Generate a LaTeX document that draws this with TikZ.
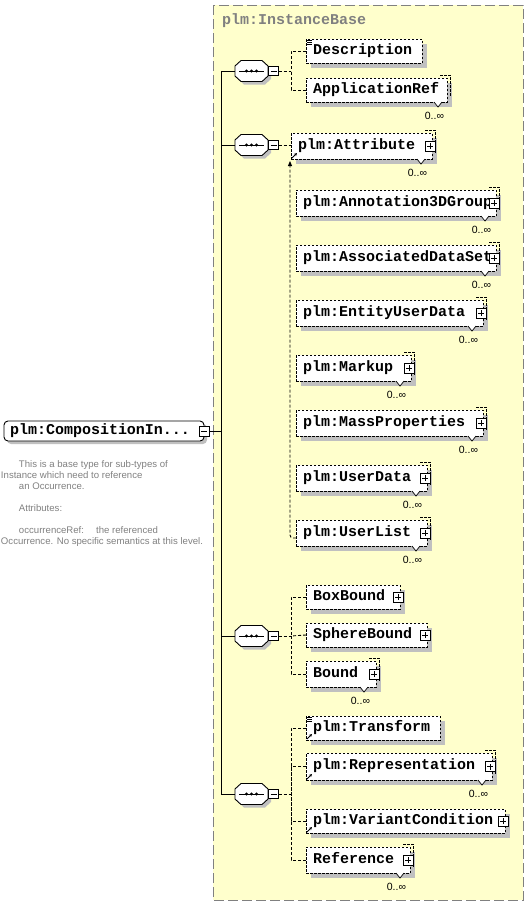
\documentclass[tikz,border=0pt]{standalone}
\usepackage{fontspec}
\newfontfamily\monof{Liberation Mono}
\newfontfamily\sansf{Liberation Sans}
\usetikzlibrary{arrows.meta,calc}
\definecolor{ybg}{HTML}{FFFFCC}
\definecolor{shd}{HTML}{C0C0C0}
\definecolor{txtgray}{HTML}{808080}
\tikzset{
 every node/.style={inner sep=0pt, outer sep=0pt},
 conn/.style={line width=0.9pt, dash pattern=on 3pt off 2pt},
 optbox/.style={draw, fill=white, line width=0.9pt, dash pattern=on 2.5pt off 1.5pt, anchor=north west,
   font=\monof\bfseries\fontsize{15}{15}\selectfont, text height=8.5pt, text depth=2.5pt},
 rootbox/.style={draw, solid, fill=white, line width=0.9pt, rounded corners=4pt, anchor=north west,
   minimum height=20pt, font=\monof\bfseries\fontsize{15}{15}\selectfont, text height=8.5pt, text depth=2.5pt},
 pm/.style={draw, solid, fill=white, line width=0.8pt, minimum width=10pt, minimum height=10pt},
 minus/.style={path picture={\draw[line width=0.8pt] ([xshift=-3pt]path picture bounding box.center) -- ([xshift=3pt]path picture bounding box.center);}},
 plus/.style={path picture={\draw[line width=0.8pt] ([xshift=-3pt]path picture bounding box.center) -- ([xshift=3pt]path picture bounding box.center);
   \draw[line width=0.8pt] ([yshift=-3pt]path picture bounding box.center) -- ([yshift=3pt]path picture bounding box.center);}},
 card/.style={font=\sansf\fontsize{10.5}{12}\selectfont, anchor=base east},
 desc/.style={font=\sansf\fontsize{9.6}{11}\selectfont, text=txtgray, anchor=base west},
 seqn/.style={minimum width=33pt, minimum height=21pt},
}
% element box: name, x, y, w, h, text
\newcommand\El[6]{%
 \fill[shd] (#2+5,#3+5) rectangle ++(#4,#5);
 \node[optbox, minimum width=#4pt, minimum height=#5pt] (#1) at (#2,#3) {\makebox[#4pt][l]{\hspace{7pt}#6}};
}
% multiple occurrences: name, notch offset from right
\newcommand\Multi[2]{%
 \draw[line width=0.9pt, dash pattern=on 2.5pt off 1.5pt] ([shift={(-7,-3)}]#1.north east) -- ([shift={(3,-3)}]#1.north east) -- ([shift={(3,-6)}]#1.south east);
 \filldraw[fill=white, line width=0.7pt] ([shift={(-#2-4,0)}]#1.south east) -- ++(4,5) -- ++(4,-5);
 \node[card] (#1c) at ([shift={(-#2+6,17)}]#1.south east) {0..∞};
}
\newcommand\Plus[1]{\node[pm, plus] (#1p) at ([xshift=-2pt]#1.east) {};}
\newcommand\RefArrow[1]{\draw[line width=0.8pt, -{Stealth[length=3pt,width=3pt]}] ([shift={(1,-1)}]#1.south west) -- ++(5,-5);}
\newcommand\Simple[1]{%
 \foreach \yy in {1.5,3.5,5.5} \draw[line width=0.7pt] ([shift={(1,\yy)}]#1.north west) -- ++(5,0);
}
% sequence compositor: name, centre y
\newcommand\Seq[2]{%
 \fill[shd] (238,#2-2) -- (244,#2-7.5) -- (265,#2-7.5) -- (271,#2-2) -- (271,#2+8) -- (265,#2+13.5) -- (244,#2+13.5) -- (238,#2+8) -- cycle;
 \filldraw[fill=white, line width=0.9pt] (235,#2-5) -- (241,#2-10.5) -- (262,#2-10.5) -- (268,#2-5) -- (268,#2+5) -- (262,#2+10.5) -- (241,#2+10.5) -- (235,#2+5) -- cycle;
 \node[seqn] (#1) at (251.5,#2) {};
 \draw[line width=0.9pt] (239,#2) -- (264,#2);
 \foreach \xx in {246.5,251.5,256.5} \fill (\xx,#2) circle (1.6pt);
 \node[pm, minus, minimum height=9.5pt] (#1m) at (273.5,#2) {};
}
\begin{document}
\begin{tikzpicture}[x=1pt,y=-1pt]
\useasboundingbox (0,0) rectangle (530,906);
% background of the complex type
\fill[ybg] (213,5) rectangle (523,900);
\draw[txtgray, line width=1pt, dash pattern=on 10pt off 4pt] (213,5) rectangle (523,900);
\node[anchor=west, text=txtgray, font=\monof\bfseries\fontsize{15}{15}\selectfont] (title) at (222,21) {plm:InstanceBase};

% root element
\fill[shd, rounded corners=4pt] (7,424) rectangle (207,444);
\node[rootbox] (root) at (4,421) {\makebox[200pt][l]{\hspace{6pt}plm:CompositionIn...}};
\node[pm, minus] (mr) at (204,431) {};

% documentation
\node[desc] (d1) at (19,467) {This is a base type for sub-types of};
\node[desc] (d2) at (1,478) {Instance which need to reference};
\node[desc] (d3) at (19,489) {an Occurrence.};
\node[desc] (d4) at (19,511) {Attributes:};
\node[desc] (d5) at (19,533) {occurrenceRef:\hspace{12pt}the referenced};
\node[desc] (d6) at (1,544) {Occurrence. No specific semantics at this level.};

% sequences
\Seq{s1}{71}
\Seq{s2}{145}
\Seq{s3}{636}
\Seq{s4}{794}

% main trunk
\coordinate (vtop) at (221,71);
\coordinate (vbot) at (221,794);
\draw[line width=0.9pt] (s1.west) -- (vtop) -- (vbot) -- (s4.west);
\draw[line width=0.9pt] (s2.west) -- (s2.west -| vtop);
\draw[line width=0.9pt] (s3.west) -- (s3.west -| vtop);
\draw[line width=0.9pt] (mr.east) -- (mr.east -| vtop);

% sequence 1
\El{desc}{306}{39}{116}{24}{Description}
\Simple{desc}
\El{appref}{306}{78}{141}{24}{ApplicationRef}
\Multi{appref}{9}
\coordinate (t1) at (291,71);
\draw[conn] (s1m.east) -- (t1);
\draw[conn] (desc.west) -| (t1);
\draw[conn] (appref.west) -| (t1);

% sequence 2
\El{attr}{291}{133}{141}{26}{plm:Attribute}
\Multi{attr}{11}
\Plus{attr}
\RefArrow{attr}
\El{a3d}{296}{190}{200}{26}{plm:Annotation3DGroup}
\Multi{a3d}{11}
\Plus{a3d}
\El{ads}{296}{245}{200}{26}{plm:AssociatedDataSet}
\Multi{ads}{11}
\Plus{ads}
\El{eud}{296}{300}{187}{26}{plm:EntityUserData}
\Multi{eud}{11}
\Plus{eud}
\El{mk}{296}{355}{115}{26}{plm:Markup}
\Multi{mk}{11}
\Plus{mk}
\El{mp}{296}{410}{187}{26}{plm:MassProperties}
\Multi{mp}{11}
\Plus{mp}
\El{ud}{296}{465}{131}{26}{plm:UserData}
\Multi{ud}{11}
\Plus{ud}
\El{ul}{296}{520}{131}{26}{plm:UserList}
\Multi{ul}{11}
\Plus{ul}
\draw[conn] (s2m.east) -- (attr.west |- s2m.east);
\draw[conn, rounded corners=3pt, -{Triangle[length=5pt,width=4pt]}] ([yshift=-5pt]ul.west) -| ([shift={(-1,2)}]attr.south west);

% sequence 3
\El{bb}{306}{585}{94}{24}{BoxBound}
\Plus{bb}
\El{sb}{306}{623}{121}{24}{SphereBound}
\Plus{sb}
\El{bnd}{306}{661}{70}{26}{Bound}
\Multi{bnd}{12}
\Plus{bnd}
\coordinate (t3) at (291,636);
\draw[conn] (s3m.east) -- (t3);
\draw[conn] (bb.west) -| (t3);
\draw[conn] (sb.west) -- (t3);
\draw[conn] (bnd.west) -| (t3);

% sequence 4
\El{tr}{306}{716}{134}{24}{plm:Transform}
\Simple{tr}
\RefArrow{tr}
\El{rep}{306}{753}{186}{27}{plm:Representation}
\Multi{rep}{10}
\Plus{rep}
\RefArrow{rep}
\El{vc}{306}{809}{199}{24}{plm:VariantCondition}
\Plus{vc}
\RefArrow{vc}
\El{refe}{306}{847}{104}{26}{Reference}
\Multi{refe}{10}
\Plus{refe}
\coordinate (t4) at (291,794);
\draw[conn] (s4m.east) -- (t4);
\draw[conn] (tr.west) -| (t4);
\draw[conn] (rep.west) -| (t4);
\draw[conn] (vc.west) -| (t4);
\draw[conn] (refe.west) -| (t4);
\end{tikzpicture}
\end{document}
